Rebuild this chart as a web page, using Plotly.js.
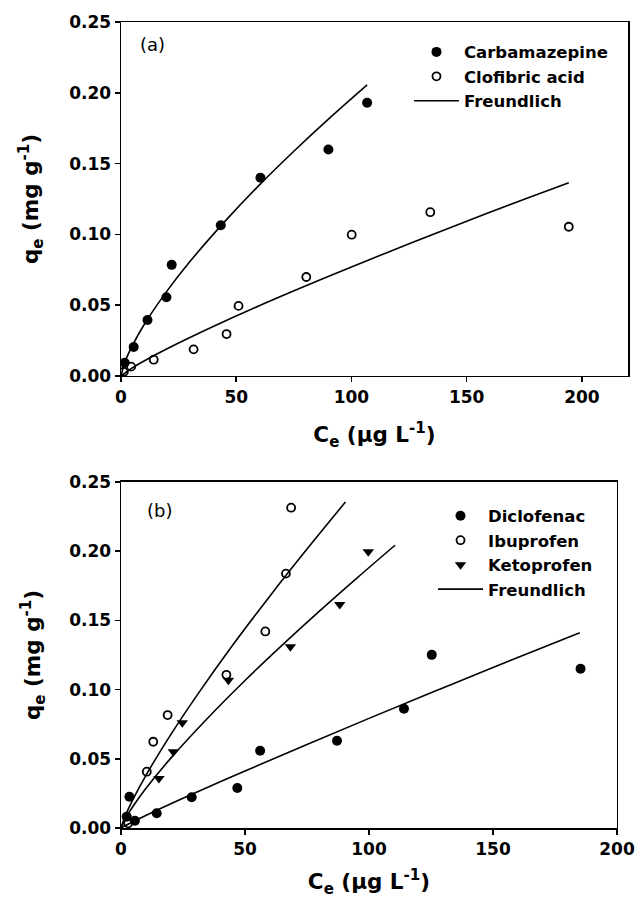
<!DOCTYPE html>
<html>
<head>
<meta charset="utf-8">
<script src="https://cdn.plot.ly/plotly-3.0.1.min.js"></script>
<style>html,body{margin:0;padding:0;background:#fff;}#chart{width:635px;height:898px;}</style>
</head>
<body>
<div id="chart"></div>
<script>
// ---- Panel (a) data ----
const carbamazepineCe = [1.6, 5.5, 11.5, 19.7, 22.0, 43.3, 60.5, 90.0, 106.8];
const carbamazepineQe = [0.0094, 0.0205, 0.0395, 0.0556, 0.0785, 0.1065, 0.1400, 0.1600, 0.1930];
const clofibricCe = [1.2, 4.4, 14.2, 31.5, 45.8, 51.0, 80.4, 100.1, 134.2, 194.3];
const clofibricQe = [0.0030, 0.0066, 0.0115, 0.0188, 0.0296, 0.0495, 0.0699, 0.0998, 0.1157, 0.1054];
// Freundlich curves
const fitCarbaCe = [0, 2, 5, 10, 20, 30, 45, 60, 75, 90, 106.8];
const fitCarbaQe = [0, 0.0111, 0.0217, 0.0362, 0.0601, 0.0810, 0.1090, 0.1348, 0.1587, 0.1814, 0.2056];
const fitClofCe = [0, 5, 10, 20, 40, 60, 80, 100, 125, 150, 175, 194.3];
const fitClofQe = [0, 0.0058, 0.0106, 0.0192, 0.0349, 0.0496, 0.0635, 0.0770, 0.0934, 0.1093, 0.1248, 0.1364];

// ---- Panel (b) data ----
const diclofenacCe = [2.3, 3.4, 5.6, 14.4, 28.5, 46.9, 56.1, 87.1, 114.1, 125.3, 185.3];
const diclofenacQe = [0.0082, 0.0226, 0.0053, 0.0106, 0.0222, 0.0289, 0.0558, 0.0630, 0.0861, 0.1251, 0.1150];
const ibuprofenCe = [2.9, 10.4, 13.0, 18.8, 42.5, 58.2, 66.5, 68.6];
const ibuprofenQe = [0.0034, 0.0407, 0.0623, 0.0816, 0.1107, 0.1420, 0.1838, 0.2314];
const ketoprofenCe = [15.3, 21.1, 24.7, 43.3, 68.3, 88.2, 99.7];
const ketoprofenQe = [0.0358, 0.0551, 0.0760, 0.1068, 0.1310, 0.1614, 0.1996];
const fitIbuCe = [0, 2, 5, 10, 20, 30, 45, 60, 75, 90.5];
const fitIbuQe = [0, 0.0100, 0.0213, 0.0379, 0.0673, 0.0942, 0.1320, 0.1675, 0.2015, 0.2355];
const fitKetoCe = [0, 2, 5, 10, 20, 35, 50, 65, 80, 95, 110.5];
const fitKetoQe = [0, 0.0076, 0.0161, 0.0285, 0.0503, 0.0795, 0.1066, 0.1321, 0.1567, 0.1804, 0.2043];
const fitDicloCe = [0, 5, 10, 25, 50, 75, 100, 125, 150, 185];
const fitDicloQe = [0, 0.0047, 0.0091, 0.0215, 0.0412, 0.0604, 0.0792, 0.0977, 0.1160, 0.1411];

const xTicksA = [0, 50, 100, 150, 200];
const xTicksB = [0, 50, 100, 150, 200];
const yTicks = [0, 0.05, 0.10, 0.15, 0.20, 0.25];

const FONT = "DejaVu Sans";
const tickFont = {family: FONT, size: 17, color: "#000", weight: "bold"};
const titleFont = {family: FONT, size: 21.5, color: "#000", weight: "bold"};
const legFont = {family: FONT, size: 16.5, color: "#000", weight: "bold"};

function pts(x, y, name, symbol, size, axes, legend) {
  const open = symbol.indexOf("open") >= 0;
  return {
    x: x, y: y, type: "scatter", mode: "markers", name: name,
    xaxis: axes[0], yaxis: axes[1], legend: legend,
    marker: {symbol: symbol, size: size, color: "#000",
             line: {color: "#000", width: open ? 1.8 : 0}}
  };
}
function fit(x, y, axes, legend, show) {
  return {
    x: x, y: y, type: "scatter", mode: "lines", name: "Freundlich",
    xaxis: axes[0], yaxis: axes[1], legend: legend,
    legendgroup: legend + "fit", showlegend: show,
    line: {color: "#000", width: 1.6, shape: "spline"}
  };
}

const A = ["x", "y"], B = ["x2", "y2"];
const data = [
  pts(carbamazepineCe, carbamazepineQe, "Carbamazepine", "circle", 10, A, "legend"),
  pts(clofibricCe, clofibricQe, "Clofibric acid", "circle-open", 8, A, "legend"),
  fit(fitCarbaCe, fitCarbaQe, A, "legend", true),
  fit(fitClofCe, fitClofQe, A, "legend", false),
  pts(diclofenacCe, diclofenacQe, "Diclofenac", "circle", 10, B, "legend2"),
  pts(ibuprofenCe, ibuprofenQe, "Ibuprofen", "circle-open", 8, B, "legend2"),
  pts(ketoprofenCe, ketoprofenQe, "Ketoprofen", "triangle-down", 10, B, "legend2"),
  fit(fitIbuCe, fitIbuQe, B, "legend2", true),
  fit(fitKetoCe, fitKetoQe, B, "legend2", false),
  fit(fitDicloCe, fitDicloQe, B, "legend2", false)
];

const axisCommon = {
  showline: true, mirror: true, linecolor: "#000", linewidth: 1.5,
  ticks: "outside", ticklen: 5, tickwidth: 1.5, tickcolor: "#000",
  showgrid: false, zeroline: false, tickfont: tickFont, fixedrange: true,
  automargin: false
};

const layout = {
  width: 635, height: 898,
  margin: {l: 121, r: 7, t: 22, b: 70, autoexpand: false},
  paper_bgcolor: "#fff", plot_bgcolor: "#fff",
  showlegend: true,
  xaxis: Object.assign({}, axisCommon, {
    domain: [0, 1], range: [0, 220], anchor: "y",
    tickvals: xTicksA, ticktext: xTicksA.map(String),
    title: {text: "C<sub>e</sub> (μg L<sup>-1</sup>)", font: titleFont, standoff: 21}
  }),
  yaxis: Object.assign({}, axisCommon, {
    domain: [0.5608, 1], range: [0, 0.25], anchor: "x",
    tickvals: yTicks, tickformat: ".2f",
    title: {text: "q<sub>e</sub> (mg g<sup>-1</sup>)", font: titleFont, standoff: 24}
  }),
  xaxis2: Object.assign({}, axisCommon, {
    domain: [0, 0.9783], range: [0, 200], anchor: "y2",
    tickvals: xTicksB, ticktext: xTicksB.map(String),
    title: {text: "C<sub>e</sub> (μg L<sup>-1</sup>)", font: titleFont, standoff: 20}
  }),
  yaxis2: Object.assign({}, axisCommon, {
    domain: [0, 0.4293], range: [0, 0.25], anchor: "x2",
    tickvals: yTicks, tickformat: ".2f",
    title: {text: "q<sub>e</sub> (mg g<sup>-1</sup>)", font: titleFont, standoff: 22}
  }),
  legend: {
    xref: "paper", yref: "paper",
    x: 0.568, y: 0.9843, xanchor: "left", yanchor: "top",
    bgcolor: "rgba(0,0,0,0)", borderwidth: 0, font: legFont,
    itemwidth: 45, tracegroupgap: 0
  },
  legend2: {
    xref: "paper", yref: "paper",
    x: 0.6154, y: 0.4088, xanchor: "left", yanchor: "top",
    bgcolor: "rgba(0,0,0,0)", borderwidth: 0, font: legFont,
    itemwidth: 45, tracegroupgap: 0
  },
  annotations: [
    {text: "(a)", xref: "paper", yref: "paper", x: 0.0631, y: 0.9715,
     xanchor: "center", yanchor: "middle", showarrow: false,
     font: {family: FONT, size: 18, color: "#000"}},
    {text: "(b)", xref: "paper", yref: "paper", x: 0.0769, y: 0.3945,
     xanchor: "center", yanchor: "middle", showarrow: false,
     font: {family: FONT, size: 18, color: "#000"}}
  ]
};

Plotly.newPlot("chart", data, layout, {displayModeBar: false, staticPlot: true});
</script>
</body>
</html>
